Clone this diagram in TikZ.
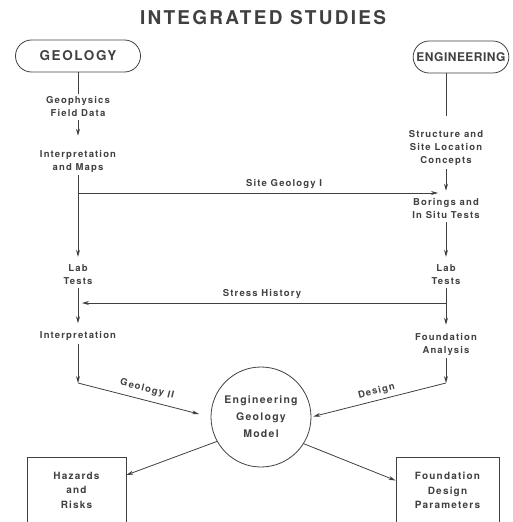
\documentclass[tikz,border=0pt]{standalone}
\usepackage{fontspec}
\setmainfont{TeX Gyre Heros}
\newfontfamily\diagfont{TeX Gyre Heros}[LetterSpace=12]
\newfontfamily\engfont{TeX Gyre Heros}[LetterSpace=4]
\usetikzlibrary{arrows.meta, positioning, calc}
\definecolor{ink}{gray}{0.25}
\tikzstyle{startStop} = [rectangle, rounded corners=16pt, minimum height=32pt, text centered, draw=ink, text=ink, line width=0.8pt, font=\diagfont\bfseries\fontsize{13.5}{15}\selectfont]
\tikzstyle{textNode} = [align=center, inner sep=3pt, text=ink, font=\diagfont\bfseries\fontsize{9.5}{13}\selectfont]
\tikzstyle{modelNode} = [
        circle,
        minimum size = 100pt,
        align=center,
        draw=ink, text=ink,
        line width=0.8pt,
        font=\diagfont\bfseries\fontsize{10.5}{17}\selectfont
    ]
\tikzstyle{outBox} = [rectangle, minimum height=66pt, align=center, draw=ink, text=ink, line width=0.8pt, font=\diagfont\bfseries\fontsize{10}{14.5}\selectfont]
\tikzstyle{labelNode} = [text=ink, inner sep=4pt, font=\diagfont\bfseries\fontsize{9.5}{12}\selectfont]
\tikzstyle{arrow} = [draw=ink, line width=0.8pt, ->, >={Stealth[length=7pt,width=4pt]}, shorten >=5pt]
\tikzstyle{line} = [draw=ink, line width=0.8pt]

\begin{document}
\begin{tikzpicture}[x=1pt, y=1pt, node distance=50pt]
    \useasboundingbox (0,0) rectangle (512,-522);
    \clip (0,0) rectangle (512,-522);
    \node (title) at (263,-18) [text=ink, font=\diagfont\bfseries\fontsize{19}{21}\selectfont] {INTEGRATED STUDIES};
    % geology side
    \node (geo) at (78,-56) [startStop, minimum width=125pt] {GEOLOGY};
    \node (geophys) [textNode, node distance=51pt, below of=geo] {Geophysics\\Field Data};
    \node (intmaps) [textNode, node distance=54pt, below of=geophys] {Interpretation\\and Maps};
    \node (labL) [textNode, node distance=114pt, below of=intmaps] {Lab\\Tests};
    \node (interpL) [textNode, node distance=61pt, below of=labL] {Interpretation};
    \coordinate [node distance=47pt, below of=interpL] (geoII);
    % engineering side
    \node (eng) at (461,-57) [startStop, minimum width=93pt, font=\engfont\bfseries\fontsize{12}{14}\selectfont] {ENGINEERING};
    \node (struct) [textNode, node distance=91pt, below of=eng, xshift=-15pt] {Structure and\\Site Location\\Concepts};
    \node (borings) [textNode, node distance=61pt, below of=struct] {Borings and\\In Situ Tests};
    \node (labR) [textNode, node distance=66pt, below of=borings] {Lab\\Tests};
    \node (found) [textNode, node distance=69pt, below of=labR] {Foundation\\Analysis};
    \coordinate [node distance=39pt, below of=found] (dsgn);
    % model and results
    \node (model) at (261,-417) [modelNode] {Engineering\\Geology\\Model};
    \node (hazards) at (76.5,-490) [outBox, minimum width=99pt] {Hazards\\and\\Risks};
    \node (fdp) at (447.5,-490.5) [outBox, minimum width=103pt] {Foundation\\Design\\Parameters};
    \coordinate (siteL) at (78,-193);
    \coordinate (stressR) at (446,-303);

    \draw [line] (geo) -- (geophys);
    \draw [arrow, shorten >=11pt] (geophys) -- (intmaps);
    \draw [arrow] (intmaps) -- (labL);
    \draw [arrow, shorten >=8pt] (siteL) -- (siteL -| borings) node [labelNode, above, pos=0.56] {Site Geology I};
    \draw [arrow] (labL) -- (interpL);
    \draw [arrow, shorten >=0pt] (interpL) -- (geoII);
    \draw [arrow, shorten >=12pt] (geoII) -- (model.180) node [labelNode, above, sloped, midway, inner sep=6pt] {Geology II};

    \draw [line, shorten >=11pt] (eng.south -| struct) -- (struct);
    \draw [arrow] (struct) -- (borings);
    \draw [arrow] (borings) -- (labR);
    \draw [arrow] (labR) -- (found);
    \draw [arrow, shorten >=4pt] (stressR) -- (stressR -| labL) node [labelNode, above, midway] {Stress History};
    \draw [arrow, shorten >=0pt] (found) -- (dsgn);
    \draw [arrow, shorten >=2pt] (dsgn) -- (model.0) node [labelNode, above, sloped, midway] {Design};

    \draw [arrow, shorten >=0pt] (model.209) -- ([yshift=15pt]hazards.east);
    \draw [arrow, shorten >=0pt] (model.-32) -- ([yshift=10pt]fdp.west);
\end{tikzpicture}
\end{document}
